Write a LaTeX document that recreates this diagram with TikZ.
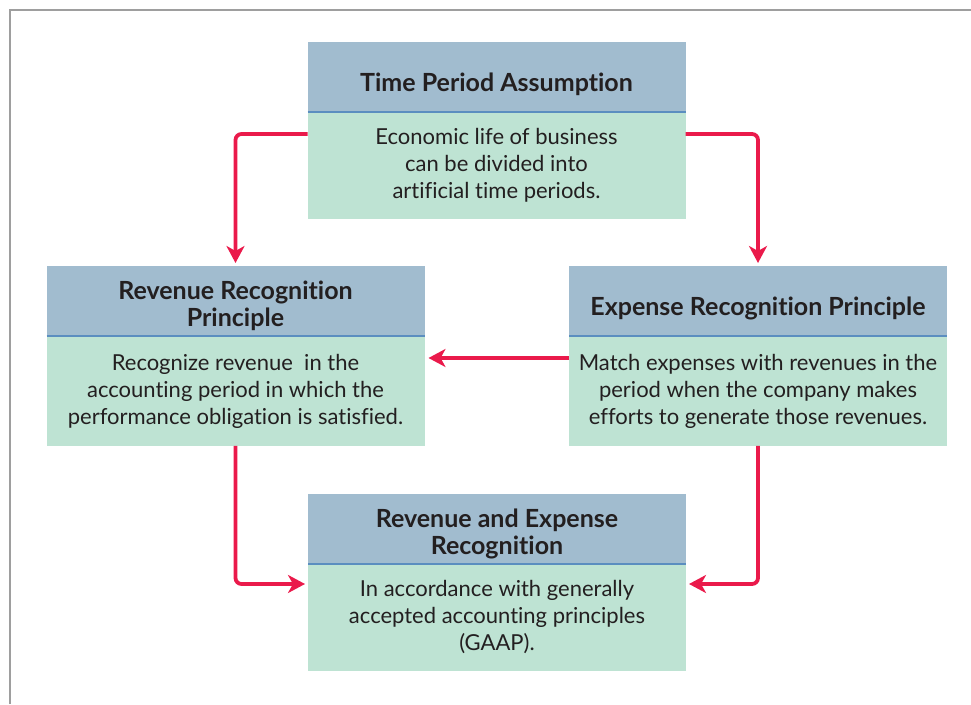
\documentclass[tikz,border=0pt]{standalone}
\usepackage{fontspec}
\setmainfont{Lato}[Ligatures=NoCommon]
\usetikzlibrary{positioning,calc,arrows.meta}
\definecolor{headblue}{HTML}{A1BCCF}
\definecolor{bodygreen}{HTML}{BEE3D3}
\definecolor{rulemid}{HTML}{5B8EC0}
\definecolor{flowred}{HTML}{EA1A4B}
\definecolor{inkdark}{HTML}{231F20}
\tikzset{
	headbox/.style={fill=headblue, text=inkdark, minimum width=378pt, minimum height=70pt, inner sep=0pt, outer sep=0pt, align=center, text depth=0pt, text height=29pt, font=\fontsize{25}{27}\selectfont\bfseries},
	twohead/.style={headbox, text height=52pt},
	bodybox/.style={fill=bodygreen, text=inkdark, minimum width=378pt, minimum height=107pt, inner sep=0pt, outer sep=0pt, align=center, font=\fontsize{22}{27}\selectfont},
	tallbody/.style={bodybox, minimum height=110pt},
	divider/.style={draw=rulemid, line width=2.5pt},
	flow/.style={draw=flowred, line width=3.8pt, rounded corners=6pt, -{Stealth[length=17pt, width=18pt, inset=5pt]}}
}

\begin{document}
\begin{tikzpicture}[x=1pt, y=1pt]
			%%%%% START %%%%%
			\useasboundingbox (0, 0) rectangle (971, 704);
			
			\draw[line width=2pt, color=black!38] (10, 0) -- (10, 694) -- (971, 694);
			
			\node[headbox] (tphead) at (496.5, 627) {Time Period Assumption};
			\node[bodybox, below=0pt of tphead] (tpbody) {Economic life of business\\can be divided into\\artificial time periods.};
			\draw[divider] (tphead.south west) -- (tphead.south east);
			
			\node[twohead] (rrhead) at (235.5, 403) {Revenue Recognition\\Principle};
			\node[tallbody, below=0pt of rrhead] (rrbody) {Recognize revenue\ \ in the\\accounting period in which the\\performance obligation is satisfied.};
			\draw[divider] (rrhead.south west) -- (rrhead.south east);
			
			\node[headbox] (erhead) at (758, 403) {Expense Recognition Principle};
			\node[tallbody, below=0pt of erhead] (erbody) {Match expenses with revenues in the\\period when the company makes\\efforts to generate those revenues.};
			\draw[divider] (erhead.south west) -- (erhead.south east);
			
			\node[twohead] (rehead) at (497, 175) {Revenue and Expense\\Recognition};
			\node[bodybox, below=0pt of rehead] (rebody) {In accordance with generally\\accepted accounting principles\\(GAAP).};
			\draw[divider] (rehead.south west) -- (rehead.south east);
			
			\draw[flow] ([yshift=-22pt]tpbody.north west) -| ([yshift=3pt]rrhead.north);
			\draw[flow] ([yshift=-22pt]tpbody.north east) -| ([yshift=3pt]erhead.north);
			\draw[flow] ([yshift=-22pt]erbody.north west) -- ([xshift=4pt, yshift=-22pt]rrbody.north east);
			\draw[flow] (rrbody.south) |- ([xshift=-3pt, yshift=-20pt]rebody.north west);
			\draw[flow] (erbody.south) |- ([xshift=3pt, yshift=-20pt]rebody.north east);
			
			%%%%% END %%%%%
		\end{tikzpicture}
\end{document}
